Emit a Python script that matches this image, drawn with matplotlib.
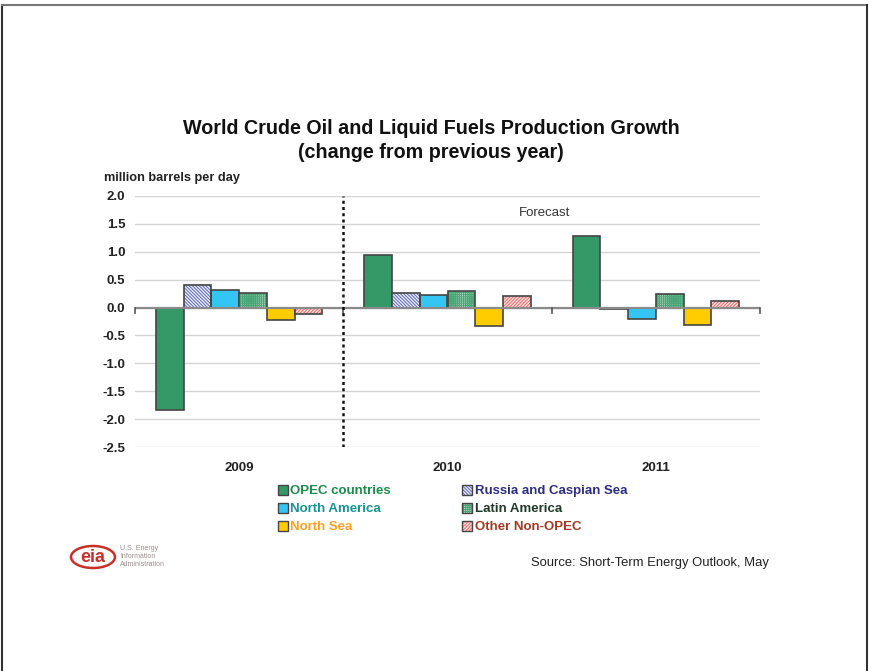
import matplotlib.pyplot as plt
from matplotlib.patches import Rectangle, Ellipse
from matplotlib.lines import Line2D
import numpy as np

plt.rcParams['font.family'] = ['Liberation Sans', 'DejaVu Sans']
plt.rcParams['hatch.linewidth'] = 0.8

years = ['2009', '2010', '2011']
series = ['OPEC countries', 'Russia and Caspian Sea', 'North America',
          'Latin America', 'North Sea', 'Other Non-OPEC']
opec = [-1.83, 0.94, 1.28]
russia = [0.40, 0.26, -0.02]
north_america = [0.31, 0.23, -0.20]
latin_america = [0.26, 0.29, 0.25]
north_sea = [-0.22, -0.33, -0.32]
other_non_opec = [-0.11, 0.20, 0.11]
values = [opec, russia, north_america, latin_america, north_sea, other_non_opec]
yticks = [2.0, 1.5, 1.0, 0.5, 0.0, -0.5, -1.0, -1.5, -2.0, -2.5]

# fill colour, hatch, hatch colour, legend text colour
styles = [
    ('#339966', None, None, '#1e8a4a'),
    ('#eef0fa', '\\' * 10, '#6a74bc', '#2e2e80'),
    ('#33c6f4', None, None, '#179494'),
    ('#d4ecdc', '+' * 8, '#4aa676', '#1f3a28'),
    ('#ffcc00', None, None, '#ffa020'),
    ('#fde8e8', '/' * 10, '#f07070', '#a03a24'),
]

W, H = 869, 671
fig = plt.figure(figsize=(W / 100, H / 100), dpi=100)
ax = fig.add_axes([135 / W, 1 - 447 / H, 625 / W, 251 / H])

x = np.arange(len(years))
bw = 0.133
for i, (vals, st) in enumerate(zip(values, styles)):
    pos = x - 2.5 * bw + i * bw
    fc, hatch, hc, _ = st
    if hatch:
        ax.bar(pos, vals, bw, color=fc, edgecolor=hc, hatch=hatch, linewidth=0, zorder=3)
        ax.bar(pos, vals, bw, fill=False, edgecolor='#444444', linewidth=1.2, zorder=4)
    else:
        ax.bar(pos, vals, bw, color=fc, edgecolor='#444444', linewidth=1.2, zorder=3)

ax.set_xlim(-0.5, 2.5)
ax.set_ylim(-2.5, 2.0)
ax.set_yticks(yticks)
ax.set_yticklabels(['%.1f' % v for v in yticks], fontsize=9.5, fontweight='bold', color='#222222')
ax.grid(axis='y', color='#d4d4d4', linewidth=1, zorder=0)
ax.tick_params(axis='y', length=0, pad=7)
ax.set_xticks(x)
ax.set_xticklabels(years, fontsize=9.5, fontweight='bold', color='#222222')
ax.tick_params(axis='x', length=0, pad=11)
for s in ax.spines.values():
    s.set_visible(False)

# zero axis with boundary ticks
ax.axhline(0, color='#8a8a8a', linewidth=1.6, zorder=5)
for b in [-0.5, 0.5, 1.5, 2.5]:
    ax.plot([b, b], [0, -0.09], color='#555555', linewidth=1.2, zorder=5, clip_on=False)

ax.axvline(0.5, color='#111111', linewidth=1.8, linestyle=(0, (1.2, 1.3)), zorder=6)
ax.text(1.465, 1.7, 'Forecast', ha='center', va='center', fontsize=9.5, color='#333333')

fig.text(431 / W, 1 - 128 / H, 'World Crude Oil and Liquid Fuels Production Growth',
         ha='center', va='center', fontsize=14.2, fontweight='bold', color='#111111')
fig.text(431 / W, 1 - 153 / H, '(change from previous year)',
         ha='center', va='center', fontsize=14.2, fontweight='bold', color='#111111')
fig.text(104 / W, 1 - 178 / H, 'million barrels per day', ha='left', va='center',
         fontsize=9.2, fontweight='bold', color='#222222')

# legend, two columns
cols = [(278, 290), (462, 475)]
rows = [491, 509, 527]
for k in range(len(series)):
    sx, tx = cols[k % 2]
    ty = rows[k // 2]
    fc, hatch, hc, tc = styles[k]
    sq = 10
    box = (sx / W, 1 - (ty + 4) / H)
    if hatch:
        fig.add_artist(Rectangle(box, sq / W, sq / H, transform=fig.transFigure,
                                 facecolor=fc, edgecolor=hc, hatch=hatch, linewidth=0))
        fig.add_artist(Rectangle(box, sq / W, sq / H, transform=fig.transFigure,
                                 fill=False, edgecolor='#444444', linewidth=1))
    else:
        fig.add_artist(Rectangle(box, sq / W, sq / H, transform=fig.transFigure,
                                 facecolor=fc, edgecolor='#444444', linewidth=1))
    fig.text(tx / W, 1 - ty / H, series[k], ha='left', va='center', fontsize=9.5,
             fontweight='bold', color=tc)

fig.text(769 / W, 1 - 563 / H, 'Source: Short-Term Energy Outlook, May', ha='right',
         va='center', fontsize=9.4, color='#222222')

# eia logo
fig.add_artist(Ellipse((93 / W, 1 - 557 / H), 44 / W, 22 / H, transform=fig.transFigure,
                       fill=False, edgecolor='#c8302a', linewidth=1.8))
fig.text(93 / W, 1 - 557 / H, 'eia', ha='center', va='center', fontsize=13,
         fontweight='bold', color='#c8302a')
for j, line in enumerate(['U.S. Energy', 'Information', 'Administration']):
    fig.text(120 / W, 1 - (548 + j * 8) / H, line, ha='left', va='center',
             fontsize=5, color='#9a8f8f')

# page frame
fig.add_artist(Line2D([2 / W, 2 / W], [0, 1 - 5 / H], transform=fig.transFigure,
                      color='#333333', linewidth=1.5))
fig.add_artist(Line2D([2 / W, 867 / W], [1 - 5 / H, 1 - 5 / H], transform=fig.transFigure,
                      color='#777777', linewidth=1.5))
fig.add_artist(Line2D([867 / W, 867 / W], [0, 1 - 5 / H], transform=fig.transFigure,
                      color='#333333', linewidth=1.5))

fig.savefig('out.png', dpi=100)
